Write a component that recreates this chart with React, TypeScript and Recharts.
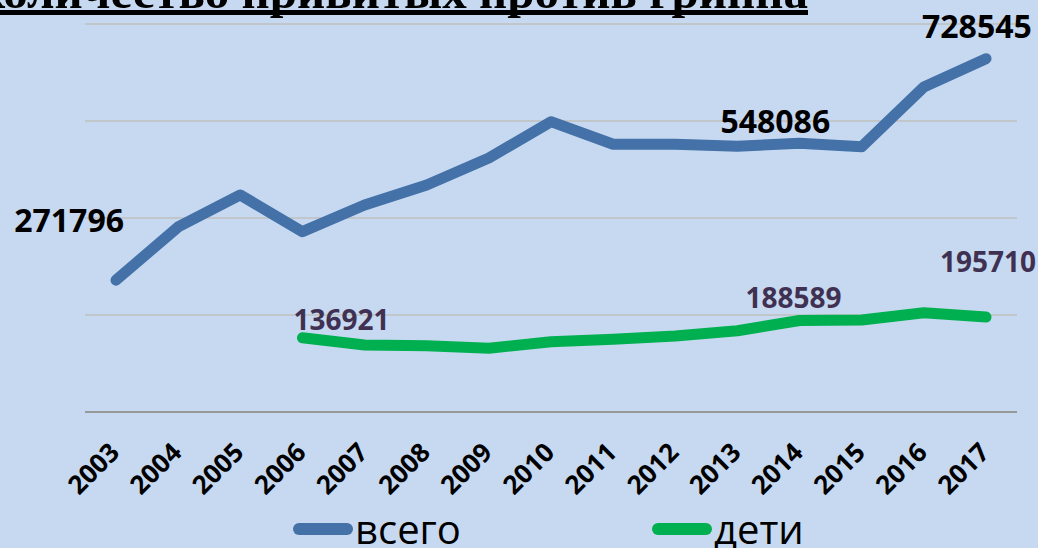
import { LineChart, Line, XAxis, YAxis, CartesianGrid, LabelList } from 'recharts'

const years = ['2003', '2004', '2005', '2006', '2007', '2008', '2009', '2010', '2011', '2012', '2013', '2014', '2015', '2016', '2017']
const totalVaccinated = [271796, 381500, 447500, 371800, 426800, 468000, 523700, 598600, 552000, 552000, 548086, 554000, 547000, 670000, 728545]
const childrenVaccinated = [null, null, null, 153000, 138200, 136700, 131300, 145000, 149900, 156700, 167600, 188589, 189700, 204800, 195710]
const totalLabels = ['271796', '', '', '', '', '', '', '', '', '', '548086', '', '', '', '728545']
const childrenLabels = ['', '', '', '136921', '', '', '', '', '', '', '', '188589', '', '', '195710']
const yTicks = [0, 200000, 400000, 600000, 800000]

const chartData = years.map((year, i) => ({
  year,
  total: totalVaccinated[i],
  children: childrenVaccinated[i],
}))

const BLUE = '#4371a8'
const GREEN = '#00b050'

const series = [
  { key: 'total', name: 'всего', color: BLUE },
  { key: 'children', name: 'дети', color: GREEN },
]

// where each visible label sits relative to its point
const totalLabelPos: Record<number, { dx: number; dy: number; anchor: 'start' | 'end' }> = {
  0: { dx: 8, dy: -48, anchor: 'end' },
  10: { dx: -17, dy: -13, anchor: 'start' },
  14: { dx: -64, dy: -21, anchor: 'start' },
}
const childrenLabelPos: Record<number, { dx: number; dy: number; anchor: 'start' | 'end' }> = {
  3: { dx: -9, dy: -8, anchor: 'start' },
  11: { dx: -54, dy: -13, anchor: 'start' },
  14: { dx: -46, dy: -45, anchor: 'start' },
}

function makeLabel(texts: string[], pos: typeof totalLabelPos, size: number, color: string) {
  return (props: any) => {
    const { x, y, index } = props
    const text = texts[index]
    const p = pos[index]
    if (!text || !p || x == null || y == null) return null
    return (
      <text
        x={x + p.dx}
        y={y + p.dy}
        textAnchor={p.anchor}
        fontFamily="Open Sans"
        fontWeight={700}
        fontSize={size}
        fill={color}
      >
        {text}
      </text>
    )
  }
}

function YearTick(props: any) {
  const { x, y, payload } = props
  return (
    <g transform={`translate(${x + 5},${y + 34})`}>
      <text
        textAnchor="end"
        transform="rotate(-45)"
        fontFamily="Open Sans"
        fontWeight={700}
        fontSize={26}
        fill="#000"
      >
        {payload.value}
      </text>
    </g>
  )
}

export default function App() {
  return (
    <div
      style={{
        position: 'absolute',
        left: 0,
        top: 0,
        width: 1038,
        height: 548,
        background: '#c6d9f0',
        overflow: 'hidden',
      }}
    >
      <div
        style={{
          position: 'absolute',
          right: 230,
          top: -32,
          fontFamily: 'Liberation Serif',
          fontWeight: 700,
          fontSize: 49,
          lineHeight: '48px',
          whiteSpace: 'nowrap',
          color: '#000',
        }}
      >
        Количество привитых против гриппа
      </div>
      <div style={{ position: 'absolute', left: 0, top: 10, width: 808, height: 5, background: '#000' }} />
      <LineChart width={1038} height={548} data={chartData} margin={{ top: 24, right: 21, left: 85, bottom: 76 }}>
        <CartesianGrid vertical={false} stroke="#bfbfbf" strokeWidth={1.5} />
        <XAxis
          dataKey="year"
          padding={{ left: 31, right: 31 }}
          tickLine={false}
          axisLine={{ stroke: '#898989', strokeWidth: 1.5 }}
          tick={<YearTick />}
          interval={0}
          height={60}
        />
        <YAxis hide domain={[0, 800000]} ticks={yTicks} />
        <Line
          name="всего"
          dataKey="total"
          stroke={BLUE}
          strokeWidth={11}
          strokeLinecap="round"
          strokeLinejoin="round"
          dot={false}
          activeDot={false}
          isAnimationActive={false}
        >
          <LabelList dataKey="total" content={makeLabel(totalLabels, totalLabelPos, 32, '#000')} />
        </Line>
        <Line
          name="дети"
          dataKey="children"
          stroke={GREEN}
          strokeWidth={11}
          strokeLinecap="round"
          strokeLinejoin="round"
          dot={false}
          activeDot={false}
          isAnimationActive={false}
        >
          <LabelList dataKey="children" content={makeLabel(childrenLabels, childrenLabelPos, 28, '#403152')} />
        </Line>
      </LineChart>
      <div style={{ position: 'absolute', left: 293, top: 508, display: 'flex' }}>
        {series.map((s, i) => (
          <div key={s.key} style={{ display: 'flex', alignItems: 'center', width: i === 0 ? 359 : 200 }}>
            <div style={{ width: 60, height: 12, borderRadius: 6, background: s.color }} />
            <span style={{ fontFamily: 'Open Sans', fontSize: 40, color: '#000', lineHeight: '42px', marginLeft: 2 }}>
              {s.name}
            </span>
          </div>
        ))}
      </div>
    </div>
  )
}
